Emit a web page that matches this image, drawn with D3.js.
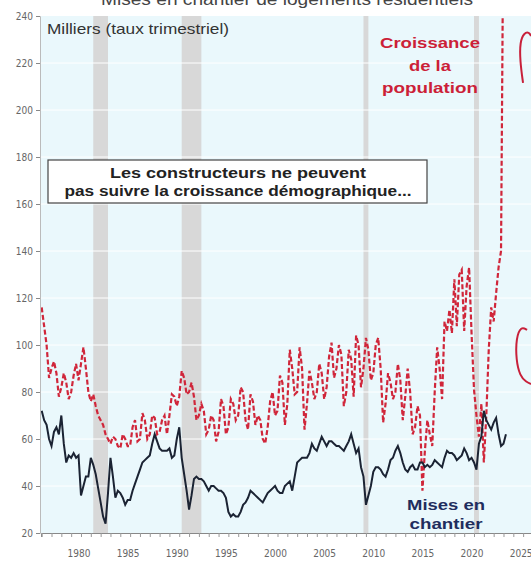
<!DOCTYPE html>
<html>
<head>
<meta charset="utf-8">
<script src="https://cdn.jsdelivr.net/npm/d3@7"></script>
<style>
  body { margin: 0; background: #fff; }
  svg { display: block; }
  .tick-lab { font-family: "Liberation Sans Narrow", "DejaVu Sans Condensed", "Liberation Sans", sans-serif; font-size: 10px; fill: #666; }
</style>
</head>
<body>
<div id="chart"></div>
<script>
// quarterly series, first value = 1976 Q1 (thousands, quarterly rate)
var startYear = 1976;

var housingStarts = [
  72, 68, 66, 60,   57, 63, 65, 62,   70, 58, 50, 53,   52, 54, 52, 53,
  36, 40, 44, 44,   52, 49, 45, 39,   33, 27, 24, 37,   52, 44, 35, 38,
  37, 35, 32, 34,   34, 38, 41, 44,   47, 50, 51, 52,   53, 58, 62, 59,
  56, 55, 55, 55,   56, 52, 53, 60,   65, 52, 45, 38,   30, 36, 43, 44,
  43, 43, 42, 40,   38, 40, 40, 39,   38, 38, 37, 35,   29, 27, 28, 27,
  27, 29, 32, 33,   35, 38, 37, 36,   35, 34, 33, 35,   37, 38, 39, 40,
  38, 37, 37, 40,   41, 42, 38, 44,   50, 51, 52, 52,   52, 54, 58, 56,
  55, 58, 61, 59,   57, 59, 59, 58,   57, 57, 56, 55,   57, 59, 62, 58,
  54, 56, 48, 44,   32, 36, 40, 46,   48, 48, 47, 45,   44, 47, 51, 52,
  55, 57, 54, 50,   47, 46, 48, 49,   47, 47, 50, 50,   48, 49, 48, 49,
  51, 50, 49, 48,   52, 55, 54, 54,   53, 51, 52, 53,   56, 54, 51, 52,
  50, 47, 58, 61,   72, 68, 66, 64,   67, 69, 62, 57,   58, 62
];

var populationGrowth = [
  116, 108, 100, 86,   90, 93, 88, 78,    82, 88, 84, 77,    80, 87, 92, 85,
  92, 99, 90, 80,      76, 79, 74, 70,    68, 66, 62, 60,    58, 61, 60, 57,
  56, 62, 60, 57,      57, 65, 68, 59,    60, 71, 68, 60,    62, 70, 69, 62,
  63, 68, 70, 62,      70, 79, 78, 74,    78, 89, 86, 79,    80, 84, 78, 68,
  70, 75, 72, 62,      64, 70, 68, 59,    63, 77, 74, 62,    65, 77, 75, 68,
  70, 82, 80, 68,      64, 79, 76, 66,    70, 68, 60, 58,    65, 76, 80, 70,
  72, 87, 84, 66,      75, 98, 90, 79,    80, 99, 90, 64,    75, 89, 84, 77,
  80, 92, 88, 77,      82, 95, 101, 86,   90, 100, 96, 74,   80, 98, 94, 78,
  104, 100, 82, 90,    103, 98, 85, 88,   100, 103, 90, 67,  75, 88, 84, 77,
  80, 92, 85, 68,      78, 90, 80, 62,    65, 74, 70, 38,    55, 68, 62, 57,
  80, 99, 90, 77,      110, 106, 115, 105, 128, 108, 130, 132, 106, 125, 133, 105,
  81, 70, 61, 75,      50, 70, 98, 116,   110, 122, 133, 140, 290
];

var recessions = [[1981.25, 1982.75], [1990.25, 1992.25], [2008.75, 2009.25], [2020.0, 2020.5]];
var yTicks = [20, 40, 60, 80, 100, 120, 140, 160, 180, 200, 220, 240];
var xTickYears = [1980, 1985, 1990, 1995, 2000, 2005, 2010, 2015, 2020, 2025];

var width = 531, height = 564;
var plot = {left: 41, right: 531, top: 16, bottom: 533};
var sans = "Liberation Sans, Arial, sans-serif";

var svg = d3.select("#chart").append("svg")
  .attr("width", width)
  .attr("height", height);

var x = d3.scaleLinear().domain([1975.93, 2025.8]).range([plot.left, plot.right]);
var y = d3.scaleLinear().domain([20, 240]).range([plot.bottom, plot.top]);

// title, cut at the top of the picture
svg.append("text")
  .attr("x", 287).attr("y", 5)
  .attr("text-anchor", "middle")
  .attr("textLength", 372)
  .attr("lengthAdjust", "spacingAndGlyphs")
  .style("font-family", sans)
  .style("font-size", "16px")
  .style("fill", "#444")
  .text("Mises en chantier de logements résidentiels");

// plot background
svg.append("rect")
  .attr("x", plot.left).attr("y", plot.top)
  .attr("width", plot.right - plot.left).attr("height", plot.bottom - plot.top)
  .style("fill", "#eaf8fc");

// recession bands
svg.append("g").selectAll("rect")
  .data(recessions)
  .enter().append("rect")
  .attr("x", d => x(d[0]))
  .attr("width", d => x(d[1]) - x(d[0]))
  .attr("y", plot.top)
  .attr("height", plot.bottom - plot.top)
  .style("fill", "#d8d8d8");

// white grid lines
svg.append("g").selectAll("line")
  .data(yTicks.slice(1, -1))
  .enter().append("line")
  .attr("x1", plot.left).attr("x2", plot.right)
  .attr("y1", d => y(d)).attr("y2", d => y(d))
  .style("stroke", "#fff")
  .style("stroke-width", 1);

// y axis
var yAxis = d3.axisLeft(y).tickValues(yTicks).tickSize(4).tickPadding(3);
var gy = svg.append("g")
  .attr("transform", `translate(${plot.left - 1},0)`)
  .call(yAxis);
gy.select(".domain").style("stroke", "#bbb");
gy.selectAll(".tick line").style("stroke", "#888");
gy.selectAll(".tick text").attr("class", "tick-lab");

// x axis: yearly ticks, labels every 5 years
var yearTicks = d3.range(1976, 2026);
var xAxis = d3.axisBottom(x).tickValues(yearTicks).tickSize(4).tickFormat("");
var gx = svg.append("g")
  .attr("transform", `translate(0,${plot.bottom})`)
  .call(xAxis);
gx.select(".domain").style("stroke", "#888");
gx.selectAll(".tick line").style("stroke", "#999");

svg.append("g").selectAll("text")
  .data(xTickYears)
  .enter().append("text")
  .attr("class", "tick-lab")
  .attr("x", d => x(d) - 2)
  .attr("y", 557)
  .attr("text-anchor", "middle")
  .text(d => d);

// clip for lines
svg.append("clipPath").attr("id", "clip")
  .append("rect")
  .attr("x", plot.left).attr("y", plot.top)
  .attr("width", plot.right - plot.left).attr("height", plot.bottom - plot.top);

var line = d3.line()
  .x((d, i) => x(startYear + i / 4))
  .y(d => y(d));

svg.append("path")
  .datum(populationGrowth)
  .attr("clip-path", "url(#clip)")
  .attr("d", line)
  .style("fill", "none")
  .style("stroke", "#d0263a")
  .style("stroke-width", 2.2)
  .style("stroke-dasharray", "5,2.5");

svg.append("path")
  .datum(housingStarts)
  .attr("clip-path", "url(#clip)")
  .attr("d", line)
  .style("fill", "none")
  .style("stroke", "#1b2333")
  .style("stroke-width", 2);

// labels
svg.append("text")
  .attr("x", 47).attr("y", 34)
  .attr("textLength", 182)
  .attr("lengthAdjust", "spacingAndGlyphs")
  .style("font-family", sans)
  .style("font-size", "15px")
  .style("fill", "#333")
  .text("Milliers (taux trimestriel)");

function block(lines, cx, y0, dy, size, color, widths) {
  var t = svg.append("text")
    .attr("text-anchor", "middle")
    .style("font-family", sans)
    .style("font-size", size + "px")
    .style("font-weight", "bold")
    .style("fill", color);
  lines.forEach(function(s, i) {
    t.append("tspan")
      .attr("x", cx).attr("y", y0 + i * dy)
      .attr("textLength", widths[i])
      .attr("lengthAdjust", "spacingAndGlyphs")
      .text(s);
  });
}

block(["Croissance", "de la", "population"], 430, 48, 22.5, 15.5, "#cc1f38", [100, 42, 96]);
block(["Mises en", "chantier"], 446, 510, 19, 15.5, "#1f2d5e", [78, 73]);

// boxed comment
svg.append("rect")
  .attr("x", 48).attr("y", 160)
  .attr("width", 379).attr("height", 43)
  .style("fill", "#fff")
  .style("stroke", "#444")
  .style("stroke-width", 1.2);
block(["Les constructeurs ne peuvent", "pas suivre la croissance démographique..."], 238, 177.5, 18, 14, "#222", [256, 347]);

// hand-drawn red brackets on the right (year, value)
var bracketTop = [[2024.99, 211.5], [2024.68, 221], [2024.68, 229], [2025.09, 232.8], [2025.6, 233.2], [2025.8, 231.5]];
var bracketLow = [[2025.4, 106.4], [2024.79, 108], [2024.28, 103], [2024.28, 93.6], [2024.68, 86.8], [2025.3, 84.3], [2025.8, 83.4]];
var hand = d3.line().x(d => x(d[0])).y(d => y(d[1])).curve(d3.curveBasis);
[bracketTop, bracketLow].forEach(function(b) {
  svg.append("path")
    .attr("d", hand(b))
    .style("fill", "none")
    .style("stroke", "#c8203a")
    .style("stroke-width", 2);
});
</script>
</body>
</html>
